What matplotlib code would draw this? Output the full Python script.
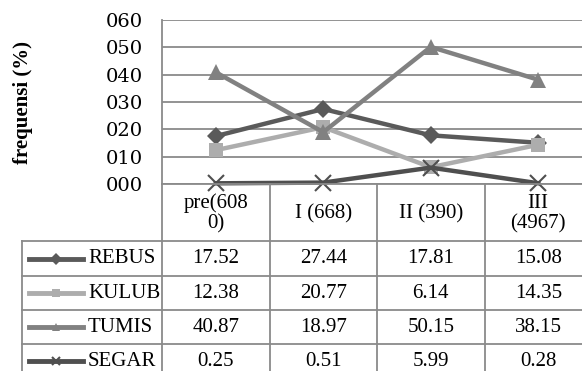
import matplotlib.pyplot as plt
from matplotlib.lines import Line2D

plt.rcParams['font.family'] = ['Liberation Serif', 'DejaVu Serif']

groups = ['pre(608\n0)', 'I (668)', 'II (390)', 'III\n(4967)']
series = ['REBUS', 'KULUB', 'TUMIS', 'SEGAR']
rebus = [17.52, 27.44, 17.81, 15.08]
kulub = [12.38, 20.77, 6.14, 14.35]
tumis = [40.87, 18.97, 50.15, 38.15]
segar = [0.25, 0.51, 5.99, 0.28]
values = [rebus, kulub, tumis, segar]

colors = ['#5a5a5a', '#adadad', '#818181', '#4f4f4f']
markers = ['D', 's', '^', 'x']
msizes = [9, 10, 11, 11]
FS = 15

W, H = 582, 371
fig = plt.figure(figsize=(W / 100, H / 100), dpi=100)

# plot area in pixels
x0, x1, ytop, ybot = 162, 592, 20, 184
ax = fig.add_axes([x0 / W, 1 - ybot / H, (x1 - x0) / W, (ybot - ytop) / H])
xs = list(range(len(groups)))
for vals, c, m, ms in zip(values, colors, markers, msizes):
    ax.plot(xs, vals, color=c, lw=3.2, marker=m, ms=ms, mew=1.5 if m == 'x' else 0,
            mec=c, clip_on=False, zorder=3)
ax.set_xlim(-0.5, len(groups) - 0.5)
ax.set_ylim(0, 60)
ax.set_yticks(range(0, 61, 10))
ax.set_yticklabels(['%03d' % v for v in range(0, 61, 10)], fontsize=14, family='DejaVu Serif')
ax.set_xticks([])
ax.tick_params(axis='y', length=0, pad=14)
ax.grid(axis='y', color='#8a8a8a', lw=1.3)
ax.set_axisbelow(True)
for s in ['top', 'right', 'bottom']:
    ax.spines[s].set_visible(False)
ax.spines['left'].set_color('#8a8a8a')
ax.spines['left'].set_linewidth(1.3)
fig.text(23 / W, 1 - 102 / H, 'frequensi (%)', rotation=90, ha='center', va='center',
         fontsize=FS, fontweight='bold')

# table under the chart
def px(x, y):
    return x / W, 1 - y / H

def hline(xa, xb, y):
    fig.add_artist(Line2D([xa / W, xb / W], [1 - y / H, 1 - y / H], color='#8a8a8a', lw=1.3))

def vline(x, ya, yb):
    fig.add_artist(Line2D([x / W, x / W], [1 - ya / H, 1 - yb / H], color='#8a8a8a', lw=1.3))

col_w = (x1 - x0) / len(groups)
row_edges = [184, 241, 276, 310, 344, 378]
lab_left = 22

hline(x0, W + 10, row_edges[0])
for y in row_edges[1:]:
    hline(lab_left, W + 10, y)
vline(lab_left, row_edges[1], H + 5)
for i in range(len(groups) + 1):
    vline(x0 + i * col_w, row_edges[0], H + 5)

for i, g in enumerate(groups):
    cx = x0 + (i + 0.5) * col_w
    fig.text(*px(cx, (row_edges[0] + row_edges[1]) / 2 + 1), g, ha='center', va='center',
             fontsize=FS, linespacing=1.1)

for r, (name, vals, c, m) in enumerate(zip(series, values, colors, markers)):
    cy = (row_edges[r + 1] + row_edges[r + 2]) / 2
    fig.add_artist(Line2D([29 / W, 83 / W], [1 - cy / H] * 2, color=c, lw=3.5))
    fig.add_artist(Line2D([56 / W], [1 - cy / H], color=c, marker=m, ms=6,
                          mew=1.5 if m == 'x' else 0, mec=c))
    fig.text(*px(88, cy), name, ha='left', va='center', fontsize=FS)
    for i, v in enumerate(vals):
        cx = x0 + (i + 0.5) * col_w
        fig.text(*px(cx, cy), '%.2f' % v, ha='center', va='center', fontsize=FS)

fig.savefig('out.png', dpi=100)
